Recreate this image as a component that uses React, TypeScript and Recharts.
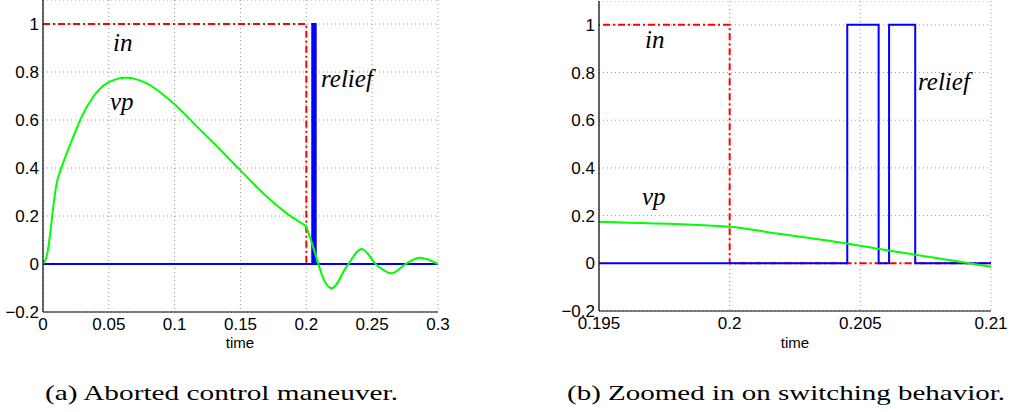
import { LineChart, Line, XAxis, YAxis, CartesianGrid } from 'recharts';

// vp: shared signal for both panels
const vpTime = [0, 0.0033, 0.0058, 0.0078, 0.0104, 0.0134, 0.018, 0.023, 0.0294, 0.0382, 0.0484, 0.063, 0.0788, 0.099, 0.1192, 0.1294, 0.1496, 0.1699, 0.1851, 0.195, 0.2, 0.2018, 0.2045, 0.206, 0.2071, 0.2092, 0.21, 0.2193, 0.2306, 0.242, 0.2534, 0.2648, 0.2762, 0.2863, 0.3];
const vpValue = [0, 0.044, 0.142, 0.239, 0.336, 0.392, 0.461, 0.53, 0.614, 0.697, 0.753, 0.776, 0.753, 0.67, 0.56, 0.505, 0.392, 0.281, 0.211, 0.174, 0.153, 0.125, 0.083, 0.055, 0.036, 0, -0.015, -0.101, -0.011, 0.0625, -0.004, -0.039, 0.003, 0.026, 0];

const inTime = [0, 0.2, 0.2, 0.3];
const inValue = [1, 1, 0, 0];

const reliefTime = [0, 0.2045, 0.2045, 0.2057, 0.2057, 0.2061, 0.2061, 0.2071, 0.2071, 0.3];
const reliefValue = [0, 0, 1, 1, 0, 0, 1, 1, 0, 0];

const yTicks = [-0.2, 0, 0.2, 0.4, 0.6, 0.8, 1];
const xTicksA = [0, 0.05, 0.1, 0.15, 0.2, 0.25, 0.3];
const xTicksB = [0.195, 0.2, 0.205, 0.21];

const zip = (t: number[], v: number[]) => t.map((x, i) => ({ t: x, v: v[i] }));
const vpData = zip(vpTime, vpValue);
const inData = zip(inTime, inValue);
const reliefData = zip(reliefTime, reliefValue);

const sans = '"Liberation Sans", Arial, Helvetica, sans-serif';
const serif = '"Liberation Serif", "Times New Roman", serif';
const tickFont = { fontFamily: sans, fontSize: 17, fill: '#000' };
const fmtY = (v: number) => String(v).replace('-', '\u2212');

function Panel({ left, top, width, height, marginRight, domain, ticks }: any) {
  return (
    <div style={{ position: 'absolute', left, top }}>
      <LineChart width={width} height={height} margin={{ top: 0, right: marginRight, bottom: 0, left: 0 }}>
        <CartesianGrid stroke="#9a9a9a" strokeDasharray="1 3" />
        <XAxis
          dataKey="t"
          type="number"
          domain={domain}
          ticks={ticks}
          allowDataOverflow
          height={48}
          tickLine={false}
          tickSize={4}
          tickMargin={2}
          tick={tickFont}
          axisLine={{ stroke: '#000', strokeWidth: 1.2 }}
          interval={0}
        />
        <YAxis
          type="number"
          domain={[-0.2, 1.1]}
          ticks={yTicks}
          allowDataOverflow
          width={43}
          tickLine={false}
          tickSize={2}
          tickMargin={2}
          tick={tickFont}
          tickFormatter={fmtY}
          axisLine={{ stroke: '#000', strokeWidth: 1.2 }}
          interval={0}
        />
        <Line data={inData} dataKey="v" type="linear" stroke="#ff0000" strokeWidth={2} strokeDasharray="7 3 2 3" dot={false} isAnimationActive={false} />
        <Line data={reliefData} dataKey="v" type="linear" stroke="#0000ff" strokeWidth={2} dot={false} isAnimationActive={false} />
        <Line data={vpData} dataKey="v" type="monotone" stroke="#00ff00" strokeWidth={2} dot={false} isAnimationActive={false} />
      </LineChart>
    </div>
  );
}

export default function App() {
  const lbl = { fontFamily: serif, fontStyle: 'italic', fontSize: 25, fill: '#000' } as const;
  const axisLbl = { fontFamily: sans, fontSize: 15, fill: '#000' } as const;
  const cap = { fontFamily: serif, fontSize: 22, fill: '#000' } as const;
  return (
    <div style={{ position: 'absolute', left: 0, top: 0, width: 1010, height: 412, background: '#fff', overflow: 'hidden' }}>
      <Panel left={0} top={0} width={480} height={360} marginRight={42} domain={[0, 0.3]} ticks={xTicksA} />
      <Panel left={556} top={1} width={454} height={358} marginRight={19} domain={[0.195, 0.21]} ticks={xTicksB} />
      <svg width={1010} height={412} style={{ position: 'absolute', left: 0, top: 0, pointerEvents: 'none' }}>
        <text x={113} y={51} style={lbl}>in</text>
        <text x={110} y={110} style={lbl}>vp</text>
        <text x={321} y={87} style={lbl}>relief</text>
        <text x={645} y={48} style={lbl}>in</text>
        <text x={642} y={205} style={lbl}>vp</text>
        <text x={918} y={90} style={lbl}>relief</text>
        <text x={240} y={348} textAnchor="middle" style={axisLbl}>time</text>
        <text x={795} y={348} textAnchor="middle" style={axisLbl}>time</text>
        <text x={45} y={400} textLength={353} lengthAdjust="spacingAndGlyphs" style={cap}>(a) Aborted control maneuver.</text>
        <text x={567} y={400} textLength={438} lengthAdjust="spacingAndGlyphs" style={cap}>(b) Zoomed in on switching behavior.</text>
      </svg>
    </div>
  );
}
